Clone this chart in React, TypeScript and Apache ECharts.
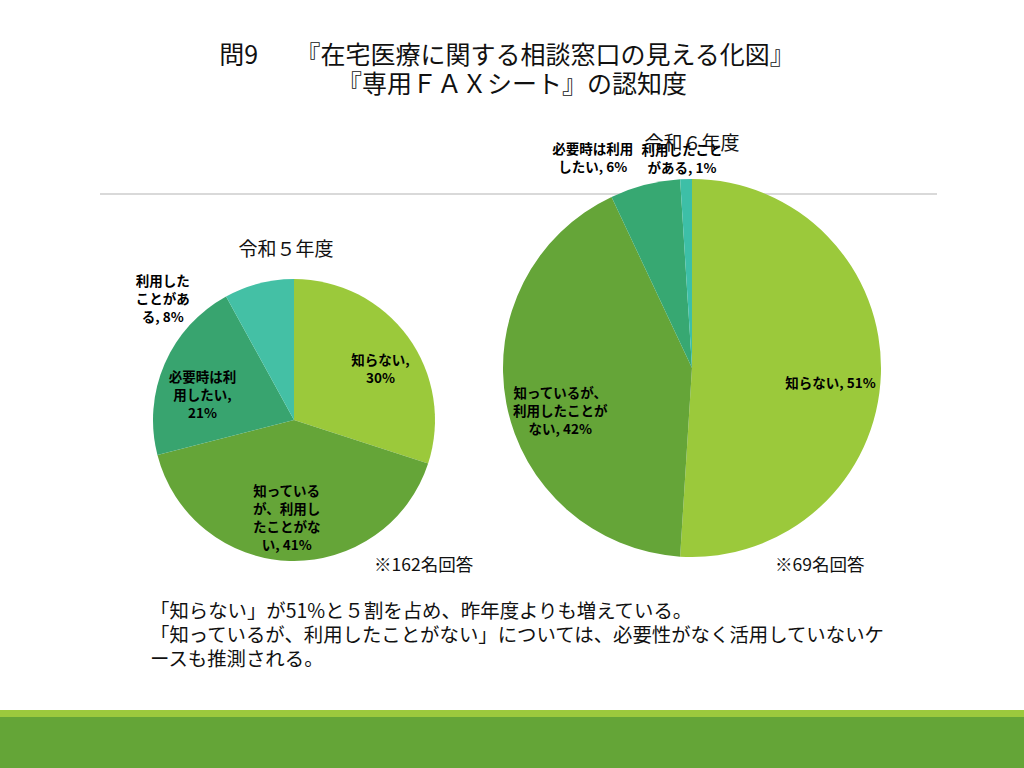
import React, { useEffect, useRef } from "react";
import * as echarts from "echarts";

const categories = [
  "知らない",
  "知っているが、利用したことがない",
  "必要時は利用したい",
  "利用したことがある",
];
const valuesR5 = [30, 41, 21, 8];
const valuesR6 = [51, 42, 6, 1];
const titleLines = ["問9　　『在宅医療に関する相談窓口の見える化図』", "『専用ＦＡＸシート』の認知度"];
const pieTitles = ["令和５年度", "令和６年度"];
const notes = ["※162名回答", "※69名回答"];
const commentLines = [
  "「知らない」が51%と５割を占め、昨年度よりも増えている。",
  "「知っているが、利用したことがない」については、必要性がなく活用していないケ",
  "ースも推測される。",
];

const colorsR5 = ["#9BC93B", "#65A538", "#38A46F", "#44C0A5"];
const colorsR6 = ["#9BC93B", "#65A538", "#37A872", "#3DBFA7"];
// full-width characters per label line
const wrapR5 = [5, 5, 5, 4];
const wrapR6 = [20, 7, 6, 6];
// label offsets from default inside position
const offR5 = [[27, -9], [-5, 24], [-24, 3], [-113, -51]];
const offR6 = [[41, 11], [-36, 24], [-75, -117], [-7, -113]];

const FONT = "'Noto Sans CJK JP', 'Noto Sans', sans-serif";

function wrap(s: string, n: number) {
  const out: string[] = [];
  let cur = "";
  let w = 0;
  for (const ch of Array.from(s)) {
    const cw = ch.charCodeAt(0) < 0x100 ? 0.5 : 1;
    if (w + cw > n && cur) {
      out.push(cur.trim());
      cur = "";
      w = 0;
    }
    cur += ch;
    w += cw;
  }
  if (cur) out.push(cur.trim());
  return out.join("\n");
}

function makePie(values: number[], colors: string[], wraps: number[], offs: number[][], center: number[], radius: number) {
  return {
    type: "pie",
    center,
    radius,
    startAngle: 90,
    clockwise: true,
    avoidLabelOverlap: false,
    data: categories.map((c, i) => ({ name: c, value: values[i], itemStyle: { color: colors[i] } })),
    label: {
      show: true,
      position: "inside",
      fontFamily: FONT,
      fontSize: 13.5,
      fontWeight: "bold",
      color: "#000",
      lineHeight: 18,
      align: "center",
      formatter: (p: any) => wrap(`${p.name}, ${p.value}%`, wraps[p.dataIndex]),
    },
    labelLine: { show: false },
    labelLayout: (p: any) => ({ dx: offs[p.dataIndex][0], dy: offs[p.dataIndex][1] }),
    itemStyle: { borderWidth: 0 },
    emphasis: { disabled: true },
  };
}

export default function App() {
  const ref = useRef<HTMLDivElement>(null);
  useEffect(() => {
    if (!ref.current) return;
    const chart = echarts.init(ref.current, undefined, { renderer: "svg" });
    const textStyle = (extra: any) => ({ fontFamily: FONT, fill: "#111", ...extra });
    chart.setOption({
      animation: false,
      backgroundColor: "#fff",
      graphic: [
        { type: "line", shape: { x1: 100, y1: 194, x2: 937, y2: 194 }, style: { stroke: "#D9D9D9", lineWidth: 2 }, z: -1 },
        { type: "rect", shape: { x: 0, y: 710, width: 1024, height: 7 }, style: { fill: "#9BC93D" } },
        { type: "rect", shape: { x: 0, y: 717, width: 1024, height: 51 }, style: { fill: "#64A537" } },
        { type: "text", x: 507, y: 53, style: textStyle({ text: titleLines[0], fontSize: 25, textAlign: "center", textVerticalAlign: "middle" }) },
        { type: "text", x: 512, y: 82, style: textStyle({ text: titleLines[1], fontSize: 25, textAlign: "center", textVerticalAlign: "middle" }) },
        { type: "text", x: 286, y: 247, style: textStyle({ text: pieTitles[0], fontSize: 19, textAlign: "center", textVerticalAlign: "middle" }) },
        { type: "text", x: 692, y: 141, z: 10, style: textStyle({ text: pieTitles[1], fontSize: 19, textAlign: "center", textVerticalAlign: "middle" }) },
        { type: "text", x: 374, y: 563, style: textStyle({ text: notes[0], fontSize: 17.5, textAlign: "left", textVerticalAlign: "middle" }) },
        { type: "text", x: 775, y: 563, style: textStyle({ text: notes[1], fontSize: 17.5, textAlign: "left", textVerticalAlign: "middle" }) },
        ...commentLines.map((t, i) => ({
          type: "text",
          x: 150,
          y: 609 + i * 24,
          style: textStyle({ text: t, fontSize: 19.4, textAlign: "left", textVerticalAlign: "middle" }),
        })),
      ],
      series: [
        makePie(valuesR5, colorsR5, wrapR5, offR5, [294, 420], 141),
        makePie(valuesR6, colorsR6, wrapR6, offR6, [692, 368], 189),
      ],
    });
    return () => chart.dispose();
  }, []);
  return <div ref={ref} style={{ position: "absolute", left: 0, top: 0, width: 1024, height: 768 }} />;
}
